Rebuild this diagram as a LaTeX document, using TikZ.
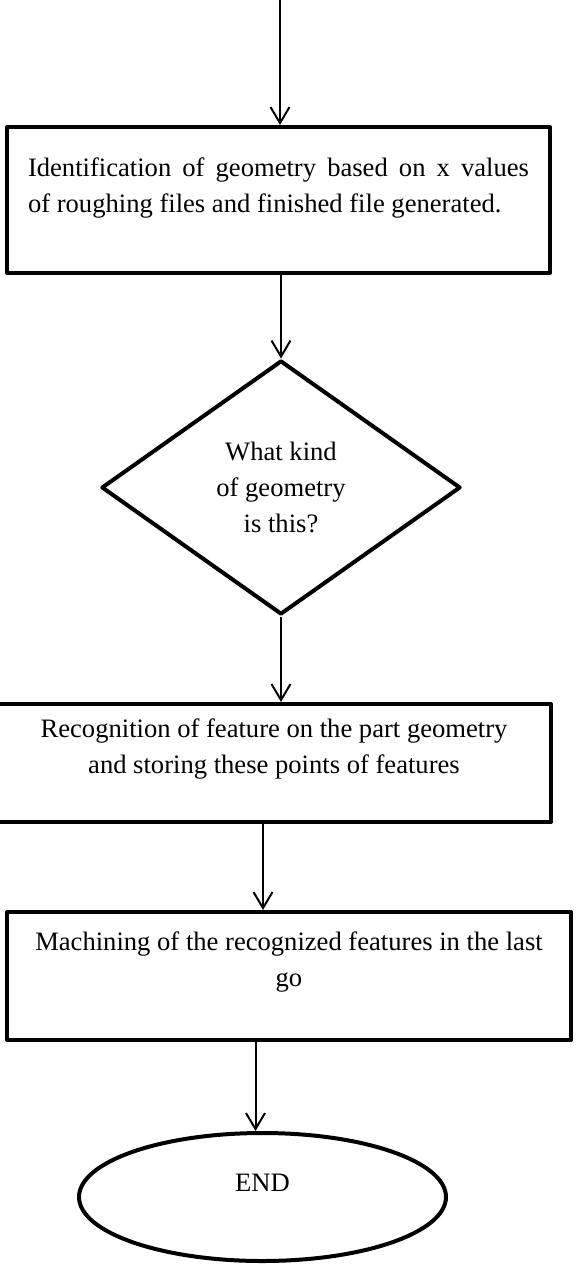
\documentclass[tikz,border=0pt]{standalone}
\usepackage{fontspec}
\setmainfont{Liberation Serif}
\usetikzlibrary{shapes.geometric,arrows.meta}

\begin{document}
\begin{tikzpicture}[x=0.5pt,y=-0.5pt,font=\fontsize{13.3}{18}\selectfont,align=center,
    box/.style={draw,line width=2pt,line join=round,inner sep=0pt},
    flow/.style={line width=1pt,-{Straight Barb[length=8pt,width=9.5pt]}}]
  \useasboundingbox (0,0) rectangle (575,1266);
  \coordinate (top) at (280,0);
  \node[box,align=justify,text width=250.5pt,minimum width=271.5pt,minimum height=73pt] (ident) at (278.5,200)
    {Identification of geometry based on x values\linebreak of roughing files and finished file generated.\\[-3.5pt] \mbox{}};
  \node[box,diamond,minimum width=179.5pt,minimum height=127pt] (kind) at (281,487.5)
    {What kind\\of geometry\\is this?};
  \node[box,minimum width=277pt,minimum height=59pt] (recog) at (274,763)
    {Recognition of feature on the part geometry\\and storing these points of features\\[-1.5pt] \mbox{}};
  \node[box,minimum width=282pt,minimum height=64pt] (mach) at (289,976)
    {Machining of the recognized features in the last\\go\\[-1.5pt] \mbox{}};
  \node[box,ellipse,minimum width=183.5pt,minimum height=64pt] (stop) at (262.5,1197)
    {END\\[-4pt] \mbox{}};
  % arrows
  \draw[flow] (top) -- (top |- ident.north);
  \draw[flow] (ident.south -| kind.north) -- (kind.north);
  \draw[flow] (kind.south) -- (kind.south |- recog.north);
  \draw[flow] ([xshift=-5.5pt]recog.south) -- ([xshift=-5.5pt]recog.south |- mach.north);
  \draw[flow] ([xshift=-3.5pt]stop.north |- mach.south) -- ([xshift=-3.5pt]stop.north);
\end{tikzpicture}
\end{document}
